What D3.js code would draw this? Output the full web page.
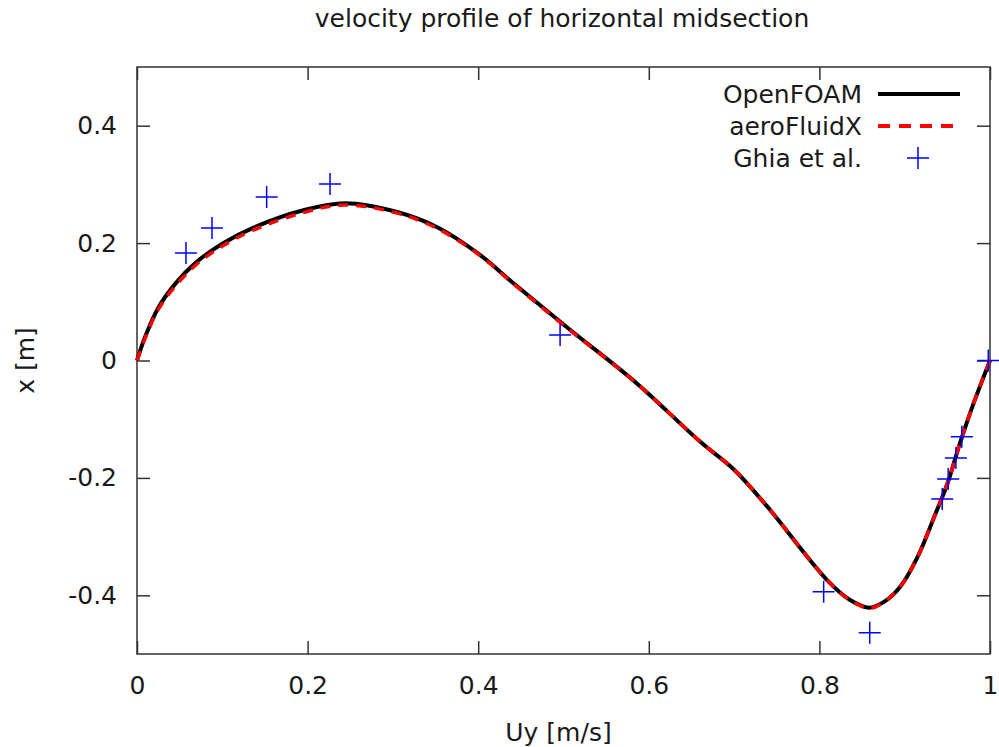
<!DOCTYPE html>
<html>
<head>
<meta charset="utf-8">
<script src="https://cdn.jsdelivr.net/npm/d3@7"></script>
<style>
  body { margin: 0; background: #fff; }
  text { font-family: "DejaVu Sans", sans-serif; fill: #1a1a1a; }
</style>
</head>
<body>
<svg id="chart"></svg>
<script>
// ---- data ----
let seriesNames = ['OpenFOAM', 'aeroFluidX', 'Ghia et al.'];

let foamUy = [0, 0.010, 0.025, 0.045, 0.070, 0.100, 0.136, 0.195, 0.244, 0.305, 0.352, 0.402, 0.441, 0.508, 0.586, 0.660, 0.700, 0.739, 0.809, 0.836, 0.859, 0.877, 0.895, 0.915, 0.935, 0.950, 0.965, 0.980, 1.0];
let foamX  = [0, 0.042, 0.090, 0.131, 0.168, 0.199, 0.226, 0.256, 0.268, 0.253, 0.227, 0.180, 0.132, 0.052, -0.039, -0.138, -0.186, -0.249, -0.374, -0.408, -0.421, -0.410, -0.385, -0.335, -0.265, -0.210, -0.140, -0.076, 0];

let afxUy = [0, 0.010, 0.025, 0.045, 0.070, 0.100, 0.136, 0.195, 0.244, 0.305, 0.352, 0.402, 0.441, 0.508, 0.586, 0.660, 0.700, 0.739, 0.809, 0.836, 0.859, 0.877, 0.895, 0.915, 0.935, 0.950, 0.965, 0.980, 1.0];
let afxX  = [0, 0.040, 0.087, 0.127, 0.164, 0.195, 0.222, 0.252, 0.265, 0.251, 0.225, 0.179, 0.131, 0.051, -0.039, -0.138, -0.186, -0.249, -0.374, -0.408, -0.422, -0.410, -0.385, -0.335, -0.265, -0.210, -0.140, -0.076, 0];

let ghiaUy = [0.0574, 0.0879, 0.152, 0.2263, 0.496, 0.805, 0.859, 0.944, 0.951, 0.960, 0.967, 0.998];
let ghiaX  = [0.183, 0.2257, 0.2785, 0.3007, 0.0434, -0.394, -0.464, -0.236, -0.202, -0.166, -0.130, 0.0];

let xTicks = [0, 0.2, 0.4, 0.6, 0.8, 1];
let yTicks = [-0.4, -0.2, 0, 0.2, 0.4];

// ---- config ----
function getConfig() {
  let width = 999;
  let height = 747;
  let margin = { top: 67, bottom: 93, left: 137, right: 9 };
  let bodyWidth = width - margin.left - margin.right;
  let bodyHeight = height - margin.top - margin.bottom;
  let container = d3.select('#chart').attr('width', width).attr('height', height);
  return { width, height, margin, bodyWidth, bodyHeight, container };
}

function getScales(config) {
  let xScale = d3.scaleLinear().domain([0, 1]).range([0, config.bodyWidth]);
  let yScale = d3.scaleLinear().domain([-0.5, 0.5]).range([config.bodyHeight, 0]);
  return { xScale, yScale };
}

function drawAxes(scales, config) {
  let { xScale, yScale } = scales;
  let { container, margin, bodyWidth, bodyHeight } = config;
  let body = container.append('g').attr('transform', `translate(${margin.left},${margin.top})`);
  let tickLen = 13;
  let fmt = d => String(+d.toFixed(1)); // plain hyphen minus like gnuplot

  // inward ticks on all four sides
  body.append('g').attr('transform', `translate(0,${bodyHeight})`)
    .call(d3.axisBottom(xScale).tickValues(xTicks).tickSize(-tickLen).tickPadding(22).tickFormat(fmt));
  body.append('g')
    .call(d3.axisTop(xScale).tickValues(xTicks).tickSize(-tickLen).tickFormat(''));
  body.append('g')
    .call(d3.axisLeft(yScale).tickValues(yTicks).tickSize(-tickLen).tickPadding(20).tickFormat(fmt));
  body.append('g').attr('transform', `translate(${bodyWidth},0)`)
    .call(d3.axisRight(yScale).tickValues(yTicks).tickSize(-tickLen).tickFormat(''));

  body.selectAll('.domain').remove();
  body.selectAll('.tick line').attr('stroke', '#333').attr('stroke-width', 1.5);
  body.selectAll('.tick text').style('font-size', '25px').attr('fill', '#1a1a1a');

  body.append('rect')
    .attr('width', bodyWidth).attr('height', bodyHeight)
    .attr('fill', 'none').attr('stroke', '#333').attr('stroke-width', 1.5);

  return body;
}

function drawLines(body, scales) {
  let { xScale, yScale } = scales;
  let line = d3.line()
    .x(d => xScale(d[0]))
    .y(d => yScale(d[1]))
    .curve(d3.curveCatmullRom.alpha(0.5));

  let foam = foamUy.map((u, i) => [u, foamX[i]]);
  let afx = afxUy.map((u, i) => [u, afxX[i]]);

  body.append('path').attr('d', line(foam))
    .attr('fill', 'none').attr('stroke', '#000').attr('stroke-width', 4);
  body.append('path').attr('d', line(afx))
    .attr('fill', 'none').attr('stroke', '#ff0000').attr('stroke-width', 3.5)
    .attr('stroke-dasharray', '10,8');

  let ghia = ghiaUy.map((u, i) => [u, ghiaX[i]]);
  let size = 11;
  body.selectAll('.ghia').data(ghia).enter().append('path')
    .attr('class', 'ghia')
    .attr('d', d => {
      let x = xScale(d[0]), y = yScale(d[1]);
      return `M${x - size},${y}H${x + size}M${x},${y - size}V${y + size}`;
    })
    .attr('stroke', '#0000ff').attr('stroke-width', 1.5).attr('fill', 'none');
}

function drawLegend(config) {
  let { container } = config;
  let g = container.append('g');
  let rows = [94, 126, 158];
  g.selectAll('text.leg').data(seriesNames).enter().append('text')
    .attr('class', 'leg')
    .attr('x', 862).attr('y', (d, i) => rows[i])
    .attr('dy', '0.35em')
    .attr('text-anchor', 'end')
    .style('font-size', '25px')
    .text(d => d);

  g.append('line').attr('x1', 878).attr('x2', 960).attr('y1', rows[0]).attr('y2', rows[0])
    .attr('stroke', '#000').attr('stroke-width', 4);
  g.append('line').attr('x1', 878).attr('x2', 960).attr('y1', rows[1]).attr('y2', rows[1])
    .attr('stroke', '#ff0000').attr('stroke-width', 4).attr('stroke-dasharray', '12,9');
  let s = 11, cx = 918, cy = rows[2];
  g.append('path').attr('d', `M${cx - s},${cy}H${cx + s}M${cx},${cy - s}V${cy + s}`)
    .attr('stroke', '#0000ff').attr('stroke-width', 1.5);
}

function drawTitles(config) {
  let { container, margin, bodyWidth, bodyHeight } = config;
  container.append('text')
    .attr('x', 562).attr('y', 27)
    .attr('text-anchor', 'middle').style('font-size', '25px')
    .text('velocity profile of horizontal midsection');
  container.append('text')
    .attr('x', margin.left + bodyWidth / 2 - 5).attr('y', 741)
    .attr('text-anchor', 'middle').style('font-size', '25px')
    .text('Uy [m/s]');
  container.append('text')
    .attr('transform', `translate(34,${margin.top + bodyHeight / 2}) rotate(-90)`)
    .attr('text-anchor', 'middle').style('font-size', '25px')
    .text('x [m]');
}

function drawChart() {
  let config = getConfig();
  let scales = getScales(config);
  let body = drawAxes(scales, config);
  drawLines(body, scales);
  drawLegend(config);
  drawTitles(config);
}

drawChart();
</script>
</body>
</html>
